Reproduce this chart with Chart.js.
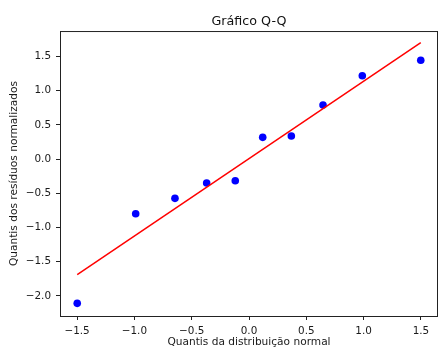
<!DOCTYPE html>
<html>
<head>
<meta charset="utf-8">
<script src="https://cdn.jsdelivr.net/npm/chart.js@4"></script>
<style>
  html, body { margin: 0; padding: 0; background: #fff; overflow: hidden; width: 438px; height: 349px; }
  #wrap { width: 442px; height: 349px; overflow: hidden; }
</style>
</head>
<body>
<div id="wrap"><canvas id="c" width="442" height="349"></canvas></div>
<script>
// Theoretical normal quantiles (x) and ordered standardized residuals (y)
const theoreticalQuantiles = [-1.4987, -0.9886, -0.6459, -0.3694, -0.1197, 0.1197, 0.3694, 0.6459, 0.9886, 1.4987];
const sampleQuantiles = [-2.11, -0.80, -0.575, -0.35, -0.317, 0.317, 0.336, 0.789, 1.218, 1.443];
// Reference line endpoints
const lineX = [-1.4987, 1.4987];
const lineY = [-1.69, 1.70];
// Axis ranges and tick steps
const xRange = [-1.649, 1.649];
const yRange = [-2.295, 1.871];
const tickStep = 0.5;

const fmt = v => {
  const s = (Math.abs(v) < 1e-9 ? 0 : v).toFixed(1);
  return s.replace('-', '\u2212');
};

const pointData = theoreticalQuantiles.map((x, i) => ({ x: x, y: sampleQuantiles[i] }));
const lineData = lineX.map((x, i) => ({ x: x, y: lineY[i] }));

const frame = {
  id: 'frame',
  afterDraw(chart) {
    const { ctx, chartArea: a } = chart;
    ctx.save();
    ctx.strokeStyle = '#222';
    ctx.lineWidth = 1;
    ctx.beginPath();
    ctx.moveTo(a.left, a.top + 0.5);
    ctx.lineTo(a.right, a.top + 0.5);
    ctx.moveTo(a.right - 0.5, a.top);
    ctx.lineTo(a.right - 0.5, a.bottom);
    ctx.stroke();
    ctx.restore();
  }
};

const FONT = "'DejaVu Sans', sans-serif";

new Chart(document.getElementById('c'), {
  type: 'scatter',
  data: {
    datasets: [
      {
        label: 'line',
        type: 'line',
        data: lineData,
        borderColor: '#ff0000',
        borderWidth: 1.5,
        pointRadius: 0,
        fill: false,
        order: 0
      },
      {
        label: 'quantis',
        data: pointData,
        backgroundColor: '#0000ff',
        borderColor: '#0000ff',
        pointRadius: 3.8,
        borderWidth: 0,
        order: 1
      }
    ]
  },
  options: {
    responsive: false,
    devicePixelRatio: 1,
    animation: false,
    layout: { padding: 0 },
    plugins: {
      legend: { display: false },
      tooltip: { enabled: false },
      title: {
        display: true,
        text: 'Gráfico Q-Q',
        fullSize: false,
        color: '#111',
        font: { family: FONT, size: 12.7, weight: 'normal' },
        padding: { top: 14, bottom: 1.8 }
      }
    },
    scales: {
      x: {
        type: 'linear',
        min: xRange[0],
        max: xRange[1],
        afterFit(s) { s.height = 33; },
        border: { display: true, color: '#222', width: 1 },
        grid: { drawOnChartArea: false, drawTicks: true, tickLength: 4, tickColor: '#222', tickWidth: 1 },
        ticks: {
          stepSize: tickStep,
          includeBounds: false,
          padding: 5,
          color: '#1a1a1a',
          font: { family: FONT, size: 10.4 },
          maxRotation: 0,
          autoSkip: false,
          callback: v => fmt(v)
        },
        title: {
          display: true,
          text: 'Quantis da distribuição normal',
          color: '#1a1a1a',
          font: { family: FONT, size: 10.6 },
          padding: { top: 0, bottom: 0 }
        }
      },
      y: {
        type: 'linear',
        min: yRange[0],
        max: yRange[1],
        afterFit(s) { s.width = 60; },
        border: { display: true, color: '#222', width: 1 },
        grid: { drawOnChartArea: false, drawTicks: true, tickLength: 4, tickColor: '#222', tickWidth: 1 },
        ticks: {
          stepSize: tickStep,
          includeBounds: false,
          padding: 5,
          color: '#1a1a1a',
          font: { family: FONT, size: 10.4 },
          autoSkip: false,
          callback: v => fmt(v)
        },
        title: {
          display: true,
          text: 'Quantis dos resíduos normalizados',
          color: '#1a1a1a',
          font: { family: FONT, size: 10.6 },
          padding: { top: 8, bottom: 0 }
        }
      }
    }
  },
  plugins: [frame]
});
</script>
</body>
</html>
